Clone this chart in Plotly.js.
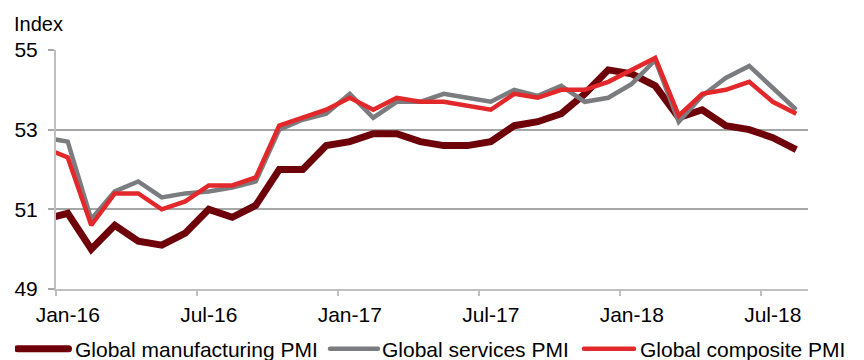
<!DOCTYPE html>
<html>
<head>
<meta charset="utf-8">
<script src="https://cdn.plot.ly/plotly-3.0.1.min.js"></script>
<style>
  html, body { margin: 0; padding: 0; background: #ffffff; }
  #chart { width: 864px; height: 360px; }
</style>
</head>
<body>
<div id="chart"></div>
<script>
// Months (Dec-15 is only partly visible at the left edge)
const months = ['Dec-15','Jan-16','Feb-16','Mar-16','Apr-16','May-16','Jun-16','Jul-16','Aug-16','Sep-16','Oct-16','Nov-16','Dec-16',
  'Jan-17','Feb-17','Mar-17','Apr-17','May-17','Jun-17','Jul-17','Aug-17','Sep-17','Oct-17','Nov-17','Dec-17',
  'Jan-18','Feb-18','Mar-18','Apr-18','May-18','Jun-18','Jul-18','Aug-18'];

const manufacturing = [50.75, 50.9, 50.0, 50.6, 50.2, 50.1, 50.4, 51.0, 50.8, 51.1, 52.0, 52.0, 52.6,
  52.7, 52.9, 52.9, 52.7, 52.6, 52.6, 52.7, 53.1, 53.2, 53.4, 53.9, 54.5,
  54.4, 54.1, 53.3, 53.5, 53.1, 53.0, 52.8, 52.5];

const services = [52.8, 52.7, 50.75, 51.45, 51.7, 51.3, 51.4, 51.45, 51.55, 51.7, 53.0, 53.25, 53.4,
  53.9, 53.3, 53.7, 53.7, 53.9, 53.8, 53.7, 54.0, 53.85, 54.1, 53.7, 53.8,
  54.15, 54.75, 53.2, 53.85, 54.3, 54.6, 54.05, 53.5];

const composite = [52.55, 52.3, 50.6, 51.4, 51.4, 51.0, 51.2, 51.6, 51.6, 51.8, 53.1, 53.3, 53.5,
  53.8, 53.5, 53.8, 53.7, 53.7, 53.6, 53.5, 53.9, 53.8, 54.0, 54.0, 54.2,
  54.5, 54.8, 53.35, 53.9, 54.0, 54.2, 53.7, 53.4];

const seriesNames = ['Global manufacturing PMI', 'Global services PMI', 'Global composite PMI'];
const tickLabels = ['Jan-16','Jul-16','Jan-17','Jul-17','Jan-18','Jul-18'];
const yTicks = [49, 51, 53, 55];

// category position of each month (Jan-16 = 0)
const xPos = months.map((m, i) => i - 1);
const labelPos = tickLabels.map(t => months.indexOf(t) - 1);      // label at the month centre
const tickMarkPos = labelPos.map(p => p - 0.5);                    // tick mark at month boundary

const FONT = 'Liberation Sans, Arial, sans-serif';

const traces = [
  { x: xPos, y: manufacturing, name: seriesNames[0], type: 'scatter', mode: 'lines', legend: 'legend',
    line: { color: '#6d0008', width: 7 } },
  { x: xPos, y: services, name: seriesNames[1], type: 'scatter', mode: 'lines', legend: 'legend2',
    line: { color: '#7b7c7f', width: 4.5 } },
  { x: xPos, y: composite, name: seriesNames[2], type: 'scatter', mode: 'lines', legend: 'legend3',
    line: { color: '#e2282a', width: 4.5 } }
];

function legendAt(px) {
  return { orientation: 'h', xref: 'container', yref: 'container', x: px / 864, xanchor: 'left',
    y: 1 - 349 / 360, yanchor: 'middle', itemwidth: 50, bgcolor: 'rgba(0,0,0,0)',
    font: { family: FONT, size: 21, color: '#000000' } };
}

const layout = {
  width: 864, height: 360,
  margin: { l: 56, r: 56, t: 50, b: 71, pad: 0, autoexpand: false },
  paper_bgcolor: '#ffffff', plot_bgcolor: '#ffffff',
  font: { family: FONT, size: 21, color: '#000000' },
  title: { text: 'Index', font: { family: FONT, size: 20, color: '#000000' },
    x: 14/864, xanchor: 'left', xref: 'container', y: 1 - 23.5/360, yanchor: 'middle', yref: 'container' },
  showlegend: true,
  legend: legendAt(15),
  legend2: legendAt(322),
  legend3: legendAt(580),
  xaxis: {
    range: [-0.5, 31.5], tickmode: 'array', tickvals: labelPos, ticktext: tickLabels,
    ticks: 'outside', ticklen: 4, tickcolor: 'rgba(0,0,0,0)', ticklabelstandoff: 2,
    minor: { tickmode: 'array', tickvals: tickMarkPos, ticks: 'outside', ticklen: 5, tickwidth: 2,
      tickcolor: '#bfbfbf', showgrid: false },
    showline: true, linecolor: '#bfbfbf', linewidth: 2,
    showgrid: false, zeroline: false, fixedrange: true,
    tickfont: { family: FONT, size: 21, color: '#000000' }
  },
  yaxis: {
    range: [49, 55], tickmode: 'array', tickvals: yTicks, ticktext: yTicks.map(String),
    ticks: 'outside', ticklen: 6, tickwidth: 2, tickcolor: '#a6a6a6',
    ticklabelstandoff: 6,
    showline: true, linecolor: '#bfbfbf', linewidth: 2,
    showgrid: true, gridcolor: '#a6a6a6', gridwidth: 2, zeroline: false, fixedrange: true,
    tickfont: { family: FONT, size: 21, color: '#000000' }
  }
};

Plotly.newPlot('chart', traces, layout, { displayModeBar: false, staticPlot: true }).then(function (gd) {
  // longer, round-capped legend line samples as in the original
  const samplePaths = { legend: 'M2.5,0h51', legend2: 'M8,0h48', legend3: 'M4,0h50' };
  Object.keys(samplePaths).forEach(function (id) {
    document.querySelectorAll('#chart g.' + id + ' .legendlines path').forEach(function (p) {
      p.setAttribute('d', samplePaths[id]);
      p.style.strokeLinecap = 'round';
    });
  });
});
</script>
</body>
</html>
